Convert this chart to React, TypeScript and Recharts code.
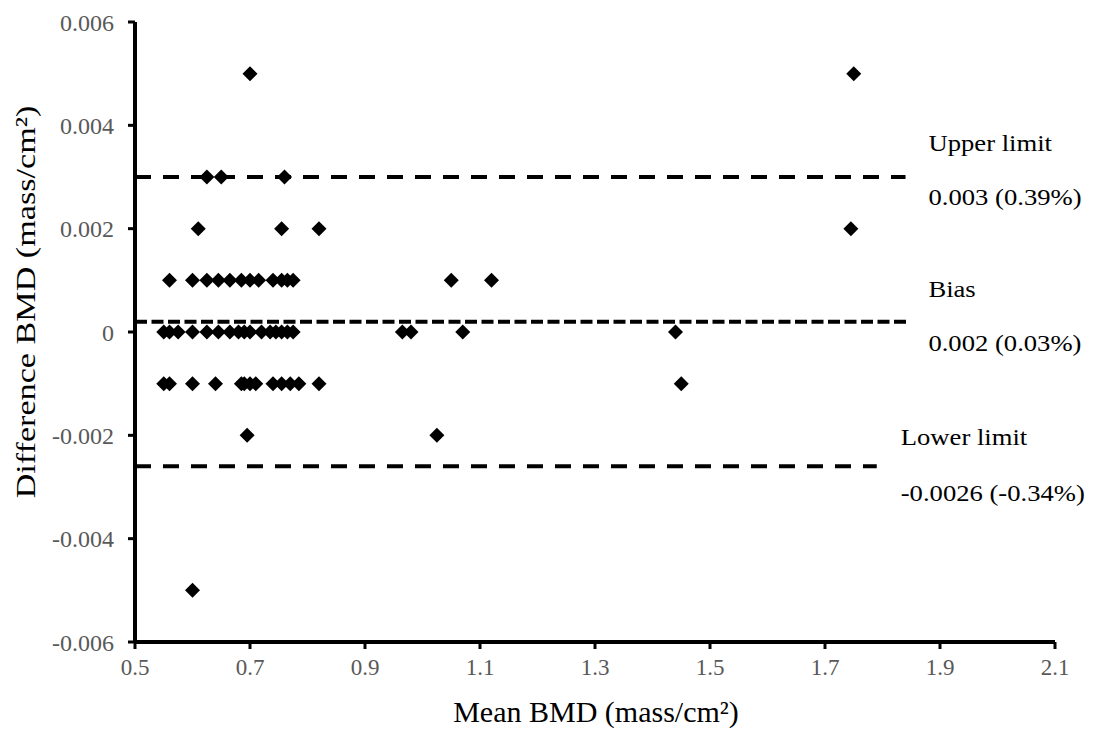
import React from 'react';
import {
  ScatterChart,
  Scatter,
  XAxis,
  YAxis,
  ReferenceLine,
} from 'recharts';

// Bland-Altman style data: mean BMD vs difference BMD
const meanBmd = [
  0.70, 1.75,
  0.625, 0.65, 0.76,
  0.61, 0.755, 0.82, 1.745,
  0.56, 0.60, 0.625, 0.645, 0.665, 0.685, 0.70, 0.715, 0.74, 0.755, 0.765, 0.775, 1.05, 1.12,
  0.55, 0.56, 0.575, 0.60, 0.625, 0.645, 0.665, 0.68, 0.69, 0.70, 0.72, 0.735, 0.745, 0.755, 0.765, 0.775, 0.965, 0.98, 1.07, 1.44,
  0.55, 0.56, 0.60, 0.64, 0.685, 0.69, 0.70, 0.71, 0.74, 0.755, 0.77, 0.785, 0.82, 1.45,
  0.695, 1.025,
  0.60,
];
const diffBmd = [
  0.005, 0.005,
  0.003, 0.003, 0.003,
  0.002, 0.002, 0.002, 0.002,
  0.001, 0.001, 0.001, 0.001, 0.001, 0.001, 0.001, 0.001, 0.001, 0.001, 0.001, 0.001, 0.001, 0.001,
  0, 0, 0, 0, 0, 0, 0, 0, 0, 0, 0, 0, 0, 0, 0, 0, 0, 0, 0, 0,
  -0.001, -0.001, -0.001, -0.001, -0.001, -0.001, -0.001, -0.001, -0.001, -0.001, -0.001, -0.001, -0.001, -0.001,
  -0.002, -0.002,
  -0.005,
];

const xTicks = [0.5, 0.7, 0.9, 1.1, 1.3, 1.5, 1.7, 1.9, 2.1];
const yTicks = [-0.006, -0.004, -0.002, 0, 0.002, 0.004, 0.006];

const upperLimit = 0.003;
const bias = 0.0002;
const lowerLimit = -0.0026;

const points = meanBmd.map((x, i) => ({ x, y: diffBmd[i] }));

const FONT = '"Liberation Serif", "Times New Roman", serif';

const Diamond = (props: any) => {
  const { cx, cy } = props;
  const r = 7.5;
  return (
    <polygon
      points={`${cx},${cy - r} ${cx + r},${cy} ${cx},${cy + r} ${cx - r},${cy}`}
      fill="#000"
    />
  );
};

// two-line annotation to the right of a limit line
const limitLabel = (title: string, value: string, dx: number, dyTop: number, dyBottom: number) => (props: any) => {
  const vb = props.viewBox || {};
  const x = vb.x + vb.width + dx;
  return (
    <g fontFamily={FONT} fontSize={24} fill="#000">
      <text transform={`translate(${x}, ${vb.y + dyTop}) scale(1.11, 1)`}>{title}</text>
      <text transform={`translate(${x}, ${vb.y + dyBottom}) scale(1.11, 1)`}>{value}</text>
    </g>
  );
};

export default function App() {
  return (
    <div style={{ position: 'absolute', left: 0, top: 0, width: 1094, height: 731, background: '#fff' }}>
      <ScatterChart width={1094} height={731} margin={{ top: 22, right: 39, bottom: 29, left: 55 }}>
        <XAxis
          type="number"
          dataKey="x"
          domain={[0.5, 2.1]}
          ticks={xTicks}
          allowDataOverflow
          tickFormatter={(v: number) => v.toFixed(1)}
          height={60}
          tickSize={7}
          tickMargin={10}
          tick={{ fill: '#595959', fontSize: 23, fontFamily: FONT }}
          axisLine={{ stroke: '#000', strokeWidth: 4 }}
          tickLine={{ stroke: '#000', strokeWidth: 3 }}
          label={{
            content: (p: any) => {
              const vb = p.viewBox;
              return (
                <text x={vb.x + vb.width / 2 + 1} y={vb.y + 80} textAnchor="middle" fontFamily={FONT} fontSize={30} fill="#000">
                  Mean BMD (mass/cm²)
                </text>
              );
            },
          }}
        />
        <YAxis
          type="number"
          dataKey="y"
          domain={[-0.006, 0.006]}
          ticks={yTicks}
          allowDataOverflow
          tickFormatter={(v: number) => (v === 0 ? '0' : v.toFixed(3))}
          width={80}
          tickSize={7}
          tickMargin={14}
          tick={{ fill: '#595959', fontSize: 24, fontFamily: FONT }}
          axisLine={{ stroke: '#000', strokeWidth: 4 }}
          tickLine={{ stroke: '#000', strokeWidth: 3 }}
          label={{
            content: () => (
              <text
                x={0}
                y={0}
                transform="translate(35, 302) rotate(-90) scale(1.22, 1)"
                textAnchor="middle"
                fontFamily={FONT}
                fontSize={28}
                fill="#000"
              >
                Difference BMD (mass/cm²)
              </text>
            ),
          }}
        />
        <ReferenceLine
          segment={[{ x: 0.5, y: upperLimit }, { x: 1.84, y: upperLimit }]}
          stroke="#000"
          strokeWidth={4}
          strokeDasharray="16 12"
          ifOverflow="visible"
          label={{ content: limitLabel('Upper limit', '0.003 (0.39%)', 23, -26, 28) }}
        />
        <ReferenceLine
          segment={[{ x: 0.5, y: bias }, { x: 1.845, y: bias }]}
          stroke="#000"
          strokeWidth={4}
          strokeDasharray="12 4.5"
          ifOverflow="visible"
          label={{ content: limitLabel('Bias', '0.002 (0.03%)', 20, -25, 29) }}
        />
        <ReferenceLine
          segment={[{ x: 0.5, y: lowerLimit }, { x: 1.79, y: lowerLimit }]}
          stroke="#000"
          strokeWidth={4}
          strokeDasharray="16 12"
          ifOverflow="visible"
          label={{ content: limitLabel('Lower limit', '-0.0026 (-0.34%)', 24, -21, 35) }}
        />
        <Scatter data={points} shape={<Diamond />} isAnimationActive={false} />
      </ScatterChart>
    </div>
  );
}
